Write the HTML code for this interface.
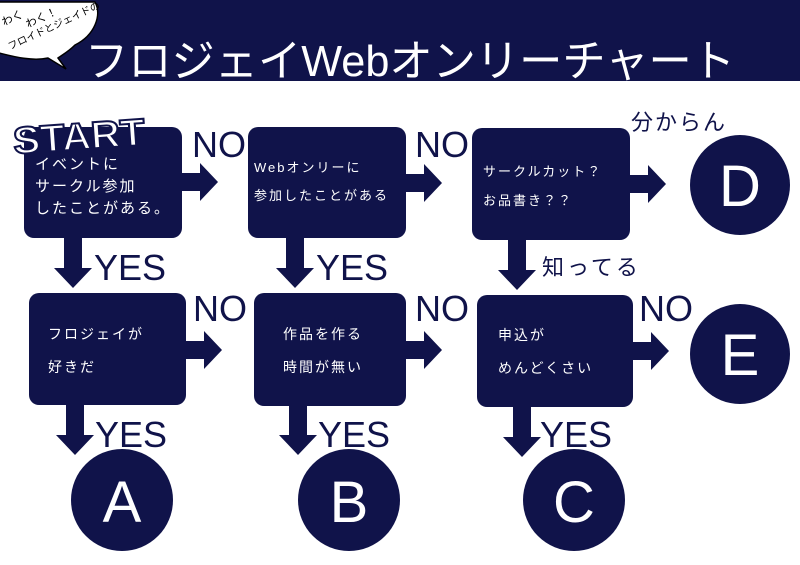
<!DOCTYPE html>
<html><head><meta charset="utf-8"><style>
html,body{margin:0;padding:0;background:#fff;}
svg{display:block;}
text{font-family:"Liberation Sans","Noto Sans CJK JP",sans-serif;}
</style></head><body>
<svg width="800" height="565" viewBox="0 0 800 565" xmlns="http://www.w3.org/2000/svg">
<defs>
<g id="ar"><polygon points="0,-9 20,-9 20,-19 38,0 20,19 20,9 0,9" fill="#10134a"/></g>
<g id="ad"><polygon points="-9,0 9,0 9,32 19,32 0,52 -19,32 -9,32" fill="#10134a"/></g>
</defs>
<rect x="0" y="0" width="800" height="81" fill="#10134a"/>
<path d="M-5,2 L95,2 C102,15 95,35 75,45 C68,52 62,55 58,58 L66,69 L48,58 C30,62 8,55 -5,52 Z" fill="#fff" stroke="#000" stroke-width="1.5"/>
<text x="4" y="26" font-size="11" fill="#000" transform="rotate(-25 4 26)">わく</text>
<text x="28" y="28" font-size="11" fill="#000" transform="rotate(-25 28 28)">わく！</text>
<text x="10" y="50" font-size="10" fill="#000" transform="rotate(-25 10 50)">フロイドとジェイドの</text>
<text x="85" y="76" font-size="44" fill="#fff" textLength="650" lengthAdjust="spacingAndGlyphs">フロジェイWebオンリーチャート</text>

<g fill="#10134a">
<rect x="24" y="127" width="158" height="111" rx="10"/>
<rect x="248" y="127" width="158" height="111" rx="10"/>
<rect x="472" y="128" width="158" height="112" rx="10"/>
<rect x="29" y="293" width="157" height="112" rx="10"/>
<rect x="254" y="293" width="152" height="113" rx="10"/>
<rect x="477" y="295" width="156" height="112" rx="10"/>
<circle cx="740" cy="185" r="50"/>
<circle cx="740" cy="354" r="50"/>
<circle cx="122" cy="500" r="51"/>
<circle cx="349" cy="500" r="51"/>
<circle cx="574" cy="500" r="51"/>
</g>
<use href="#ar" x="180" y="182"/>
<use href="#ar" x="404" y="183"/>
<use href="#ar" x="628" y="184"/>
<use href="#ar" x="184" y="350"/>
<use href="#ar" x="404" y="350"/>
<use href="#ar" x="631" y="351"/>
<use href="#ad" x="73" y="236"/>
<use href="#ad" x="295" y="236"/>
<use href="#ad" x="517" y="238"/>
<use href="#ad" x="75" y="403"/>
<use href="#ad" x="298" y="403"/>
<use href="#ad" x="522" y="405"/>

<text x="14" y="154" font-size="38" font-weight="bold" fill="#fff" stroke="#10134a" stroke-width="2" textLength="132" lengthAdjust="spacingAndGlyphs" transform="rotate(-4 14 154)">START</text>
<g font-size="15" fill="#fff" letter-spacing="2">
<text x="35" y="169">イベントに</text>
<text x="35" y="191">サークル参加</text>
<text x="35" y="213">したことがある。</text>
<text x="254" y="172" font-size="13">Webオンリーに</text>
<text x="254" y="200" font-size="13">参加したことがある</text>
<text x="483" y="176" font-size="13">サークルカット？</text>
<text x="483" y="205" font-size="13">お品書き？？</text>
<text x="48" y="339" font-size="14">フロジェイが</text>
<text x="48" y="372" font-size="14">好きだ</text>
<text x="283" y="339" font-size="14">作品を作る</text>
<text x="283" y="372" font-size="14">時間が無い</text>
<text x="498" y="340" font-size="14">申込が</text>
<text x="498" y="373" font-size="14">めんどくさい</text>
</g>
<g font-size="36" fill="#10134a">
<text x="192" y="157">NO</text>
<text x="415" y="157">NO</text>
<text x="193" y="321">NO</text>
<text x="415" y="321">NO</text>
<text x="639" y="321">NO</text>
<text x="94" y="280">YES</text>
<text x="316" y="280">YES</text>
<text x="95" y="447">YES</text>
<text x="318" y="447">YES</text>
<text x="540" y="447">YES</text>
</g>
<text x="631" y="130" font-size="22" fill="#10134a" letter-spacing="2">分からん</text>
<text x="542" y="275" font-size="22" fill="#10134a" letter-spacing="3">知ってる</text>
<g font-size="58" fill="#fff" text-anchor="middle">
<text x="740" y="206">D</text>
<text x="740" y="375">E</text>
<text x="122" y="522">A</text>
<text x="349" y="522">B</text>
<text x="574" y="522">C</text>
</g>
</svg>
</body></html>
